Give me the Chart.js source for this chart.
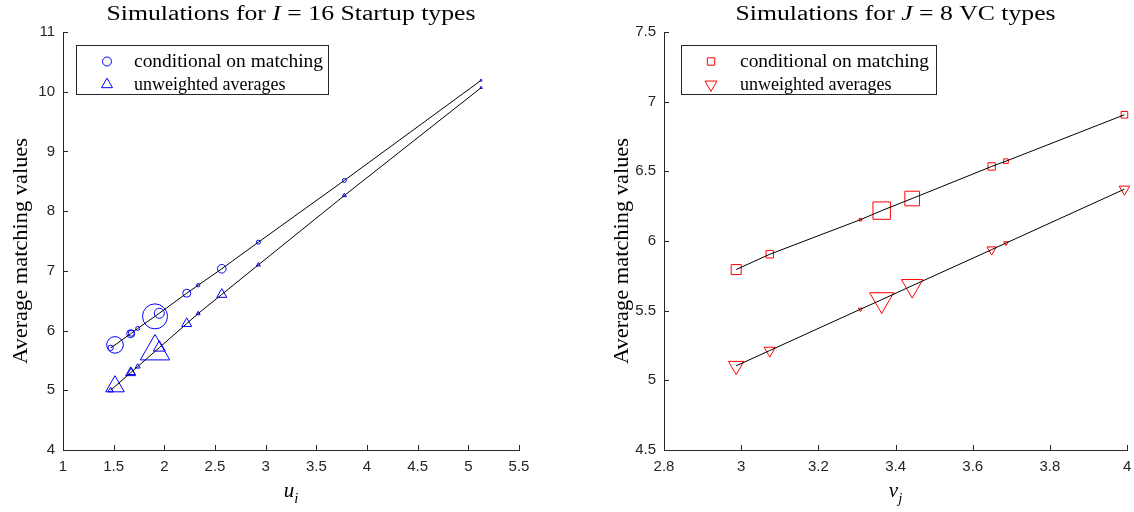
<!DOCTYPE html>
<html>
<head>
<meta charset="utf-8">
<script src="https://cdn.jsdelivr.net/npm/chart.js@4.4.1/dist/chart.umd.min.js"></script>
<style>
  html, body { margin: 0; padding: 0; background: #fff; overflow: hidden; }
  #wrap { position: relative; width: 1134px; height: 512px; overflow: hidden; }
  canvas { position: absolute; top: 0; }
  #c1 { left: 0; }
  #c2 { left: 575px; }
</style>
</head>
<body>
<div id="wrap">
  <canvas id="c1" width="567" height="512"></canvas>
  <canvas id="c2" width="567" height="512"></canvas>
</div>
<script>
// left panel: startup types
const uValues = [1.470, 1.513, 1.668, 1.674, 1.737, 1.908, 1.950, 2.221, 2.334, 2.567, 2.928, 3.777, 5.126];
const condStartup = [5.710, 5.760, 5.948, 5.955, 6.035, 6.238, 6.290, 6.625, 6.760, 7.035, 7.480, 8.515, 10.190];
const unwStartup = [5.000, 5.064, 5.294, 5.303, 5.397, 5.651, 5.714, 6.117, 6.285, 6.605, 7.100, 8.262, 10.067];
const condStartupWeight = [2.7, 8.3, 4.0, 3.0, 2.0, 12.5, 5.0, 4.0, 1.7, 4.3, 2.0, 2.0, 1.0];
const unwStartupWeight = [2.7, 9.3, 5.0, 4.0, 2.5, 14.7, 6.0, 5.0, 2.0, 5.0, 2.0, 2.0, 1.2];
const uTicks = [1, 1.5, 2, 2.5, 3, 3.5, 4, 4.5, 5, 5.5];
const leftYTicks = [4, 5, 6, 7, 8, 9, 10, 11];

// right panel: VC types
const vValues = [2.987, 3.074, 3.309, 3.364, 3.443, 3.649, 3.686, 3.993];
const condVC = [5.795, 5.905, 6.153, 6.218, 6.305, 6.535, 6.573, 6.906];
const unwVC = [5.104, 5.214, 5.510, 5.579, 5.679, 5.938, 5.985, 6.372];
const condVCWeight = [5.0, 3.7, 1.3, 8.7, 7.3, 3.7, 2.3, 3.3];
const unwVCWeight = [7.7, 5.7, 2.0, 12.0, 10.7, 4.7, 2.3, 5.3];
const vTicks = [2.8, 3, 3.2, 3.4, 3.6, 3.8, 4];
const rightYTicks = [4.5, 5, 5.5, 6, 6.5, 7, 7.5];

const legendLabels = ['conditional on matching', 'unweighted averages'];

const AXIS = '#262626';
const BLUE = 'rgb(0,0,255)';
const RED = 'rgb(255,0,0)';
const SERIF = '"Liberation Serif", "DejaVu Serif", serif';

function pts(xs, ys) {
  return xs.map((x, i) => ({ x: x, y: ys[i] }));
}

// marker half-size -> chart.js radius for each point style
function radii(w, style) {
  const k = style === 'triangle' ? 1 / 0.866 : style === 'rect' ? 1 / 0.707 : 1;
  return w.map(v => v * k);
}

function drawMarker(ctx, style, x, y, r, color, rot) {
  ctx.save();
  ctx.strokeStyle = color;
  ctx.lineWidth = 1;
  ctx.translate(x, y);
  if (rot) ctx.rotate(Math.PI);
  ctx.beginPath();
  if (style === 'circle') {
    ctx.arc(0, 0, r, 0, Math.PI * 2);
  } else if (style === 'rect') {
    ctx.rect(-r, -r, 2 * r, 2 * r);
  } else {
    const R = r / 0.866;
    ctx.moveTo(0, -R);
    ctx.lineTo(r, R / 2);
    ctx.lineTo(-r, R / 2);
    ctx.closePath();
  }
  ctx.stroke();
  ctx.restore();
}

// draw text made of parts (normal / italic / subscript), stretched to a target width
function partsFont(p, size) {
  const s = p.sub ? size * 0.7 : size;
  return (p.it ? 'italic ' : '') + s + 'px ' + SERIF;
}
function drawParts(ctx, parts, x, y, size, align, target) {
  let w = 0;
  parts.forEach(p => { ctx.font = partsFont(p, size); w += ctx.measureText(p.t).width; });
  const sx = target ? target / w : 1;
  ctx.save();
  ctx.translate(x, y);
  ctx.scale(sx, 1);
  let cx = align === 'center' ? -w / 2 : 0;
  ctx.textBaseline = 'alphabetic';
  ctx.textAlign = 'left';
  parts.forEach(p => {
    ctx.font = partsFont(p, size);
    ctx.fillText(p.t, cx, p.sub ? size * 0.28 : 0);
    cx += ctx.measureText(p.t).width;
  });
  ctx.restore();
}

const decor = {
  id: 'decor',
  afterDraw(chart, args, o) {
    const ctx = chart.ctx, a = chart.chartArea;
    const xs = chart.scales.x, ys = chart.scales.y;
    ctx.save();
    // inward ticks
    ctx.strokeStyle = AXIS;
    ctx.lineWidth = 1;
    ctx.beginPath();
    xs.ticks.forEach(t => {
      const p = Math.round(xs.getPixelForValue(t.value)) + 0.5;
      ctx.moveTo(p, a.bottom);
      ctx.lineTo(p, a.bottom - 5);
    });
    ys.ticks.forEach(t => {
      const p = Math.round(ys.getPixelForValue(t.value)) + 0.5;
      ctx.moveTo(a.left, p);
      ctx.lineTo(a.left + 5, p);
    });
    ctx.stroke();

    ctx.fillStyle = '#000';
    const mid = (a.left + a.right) / 2;
    // title
    drawParts(ctx, o.title, mid, 20, 20, 'center', o.titleW);
    // x label
    drawParts(ctx, o.xlabel, mid, 497, 21, 'center');
    // y label
    ctx.save();
    ctx.translate(a.left - 36, 251);
    ctx.rotate(-Math.PI / 2);
    drawParts(ctx, [{ t: 'Average matching values' }], 0, 0, 21, 'center', 226);
    ctx.restore();

    // legend
    const L = o.legend;
    const bx = Math.round(a.left + L.x) + 0.5, by = Math.round(a.top + 13) + 0.5;
    ctx.fillStyle = '#fff';
    ctx.fillRect(bx, by, L.w, 49);
    ctx.strokeStyle = AXIS;
    ctx.lineWidth = 1;
    ctx.strokeRect(bx, by, L.w, 49);
    L.markers.forEach((m, i) => {
      const yy = a.top + 29.5 + i * 23;
      drawMarker(ctx, m.style, a.left + L.mx, yy, m.r, L.color, m.rot);
      ctx.fillStyle = '#000';
      drawParts(ctx, [{ t: legendLabels[i] }], a.left + L.tx, yy + 5, 18, 'left', i === 0 ? 189 : null);
    });
    ctx.restore();
  }
};

function makeChart(id, cfg) {
  const tickFont = { family: '"Liberation Sans", Arial, sans-serif', size: 15 };
  return new Chart(document.getElementById(id), {
    type: 'scatter',
    data: {
      datasets: [
        { data: pts(cfg.x, cfg.cond), showLine: true, borderColor: '#000', borderWidth: 1, pointRadius: 0, clip: false },
        { data: pts(cfg.x, cfg.unw), showLine: true, borderColor: '#000', borderWidth: 1, pointRadius: 0, clip: false },
        {
          data: pts(cfg.x, cfg.cond), pointStyle: cfg.s1, pointRadius: radii(cfg.w1, cfg.s1), clip: false,
          borderColor: cfg.color, backgroundColor: 'rgba(0,0,0,0)', borderWidth: 1, pointHoverRadius: 0
        },
        {
          data: pts(cfg.x, cfg.unw), pointStyle: 'triangle', pointRotation: cfg.rot, pointRadius: radii(cfg.w2, 'triangle'), clip: false,
          borderColor: cfg.color, backgroundColor: 'rgba(0,0,0,0)', borderWidth: 1, pointHoverRadius: 0
        }
      ]
    },
    options: {
      responsive: false,
      animation: false,
      events: [],
      layout: { padding: { top: 32, right: cfg.padR, left: 0, bottom: 0 } },
      plugins: {
        legend: { display: false },
        tooltip: { enabled: false },
        decor: cfg.decor
      },
      scales: {
        x: {
          type: 'linear', min: cfg.xTicks[0], max: cfg.xTicks[cfg.xTicks.length - 1],
          afterBuildTicks: s => { s.ticks = cfg.xTicks.map(v => ({ value: v })); },
          afterFit: s => { s.height = 62; },
          ticks: { font: tickFont, color: AXIS, padding: 8, maxRotation: 0, autoSkip: false, callback: v => String(v) },
          grid: { display: true, drawOnChartArea: false, drawTicks: false },
          border: { display: true, color: AXIS, width: 1 }
        },
        y: {
          type: 'linear', min: cfg.yTicks[0], max: cfg.yTicks[cfg.yTicks.length - 1],
          afterBuildTicks: s => { s.ticks = cfg.yTicks.map(v => ({ value: v })); },
          afterFit: s => { s.width = cfg.yW; },
          ticks: { font: tickFont, color: AXIS, padding: 8, autoSkip: false, callback: v => String(v) },
          grid: { display: true, drawOnChartArea: false, drawTicks: false },
          border: { display: true, color: AXIS, width: 1 }
        }
      }
    },
    plugins: [decor]
  });
}

makeChart('c1', {
  x: uValues, cond: condStartup, unw: unwStartup, w1: condStartupWeight, w2: unwStartupWeight,
  s1: 'circle', rot: 0, color: BLUE, xTicks: uTicks, yTicks: leftYTicks, yW: 63, padR: 48,
  decor: {
    title: [{ t: 'Simulations for ' }, { t: 'I', it: true }, { t: ' = 16 Startup types' }],
    titleW: 369,
    xlabel: [{ t: 'u', it: true }, { t: 'i', it: true, sub: true }],
    legend: {
      x: 13, w: 252, mx: 44, tx: 71, color: BLUE,
      markers: [{ style: 'circle', r: 4.5 }, { style: 'triangle', r: 5.5 }]
    }
  }
});

makeChart('c2', {
  x: vValues, cond: condVC, unw: unwVC, w1: condVCWeight, w2: unwVCWeight,
  s1: 'rect', rot: 180, color: RED, xTicks: vTicks, yTicks: rightYTicks, yW: 89, padR: 8,
  decor: {
    title: [{ t: 'Simulations for ' }, { t: 'J', it: true }, { t: ' = 8 VC types' }],
    titleW: 320,
    xlabel: [{ t: 'v', it: true }, { t: 'j', it: true, sub: true }],
    legend: {
      x: 17, w: 255, mx: 47, tx: 76, color: RED,
      markers: [{ style: 'rect', r: 3.7 }, { style: 'triangle', r: 6, rot: true }]
    }
  }
});
</script>
</body>
</html>
